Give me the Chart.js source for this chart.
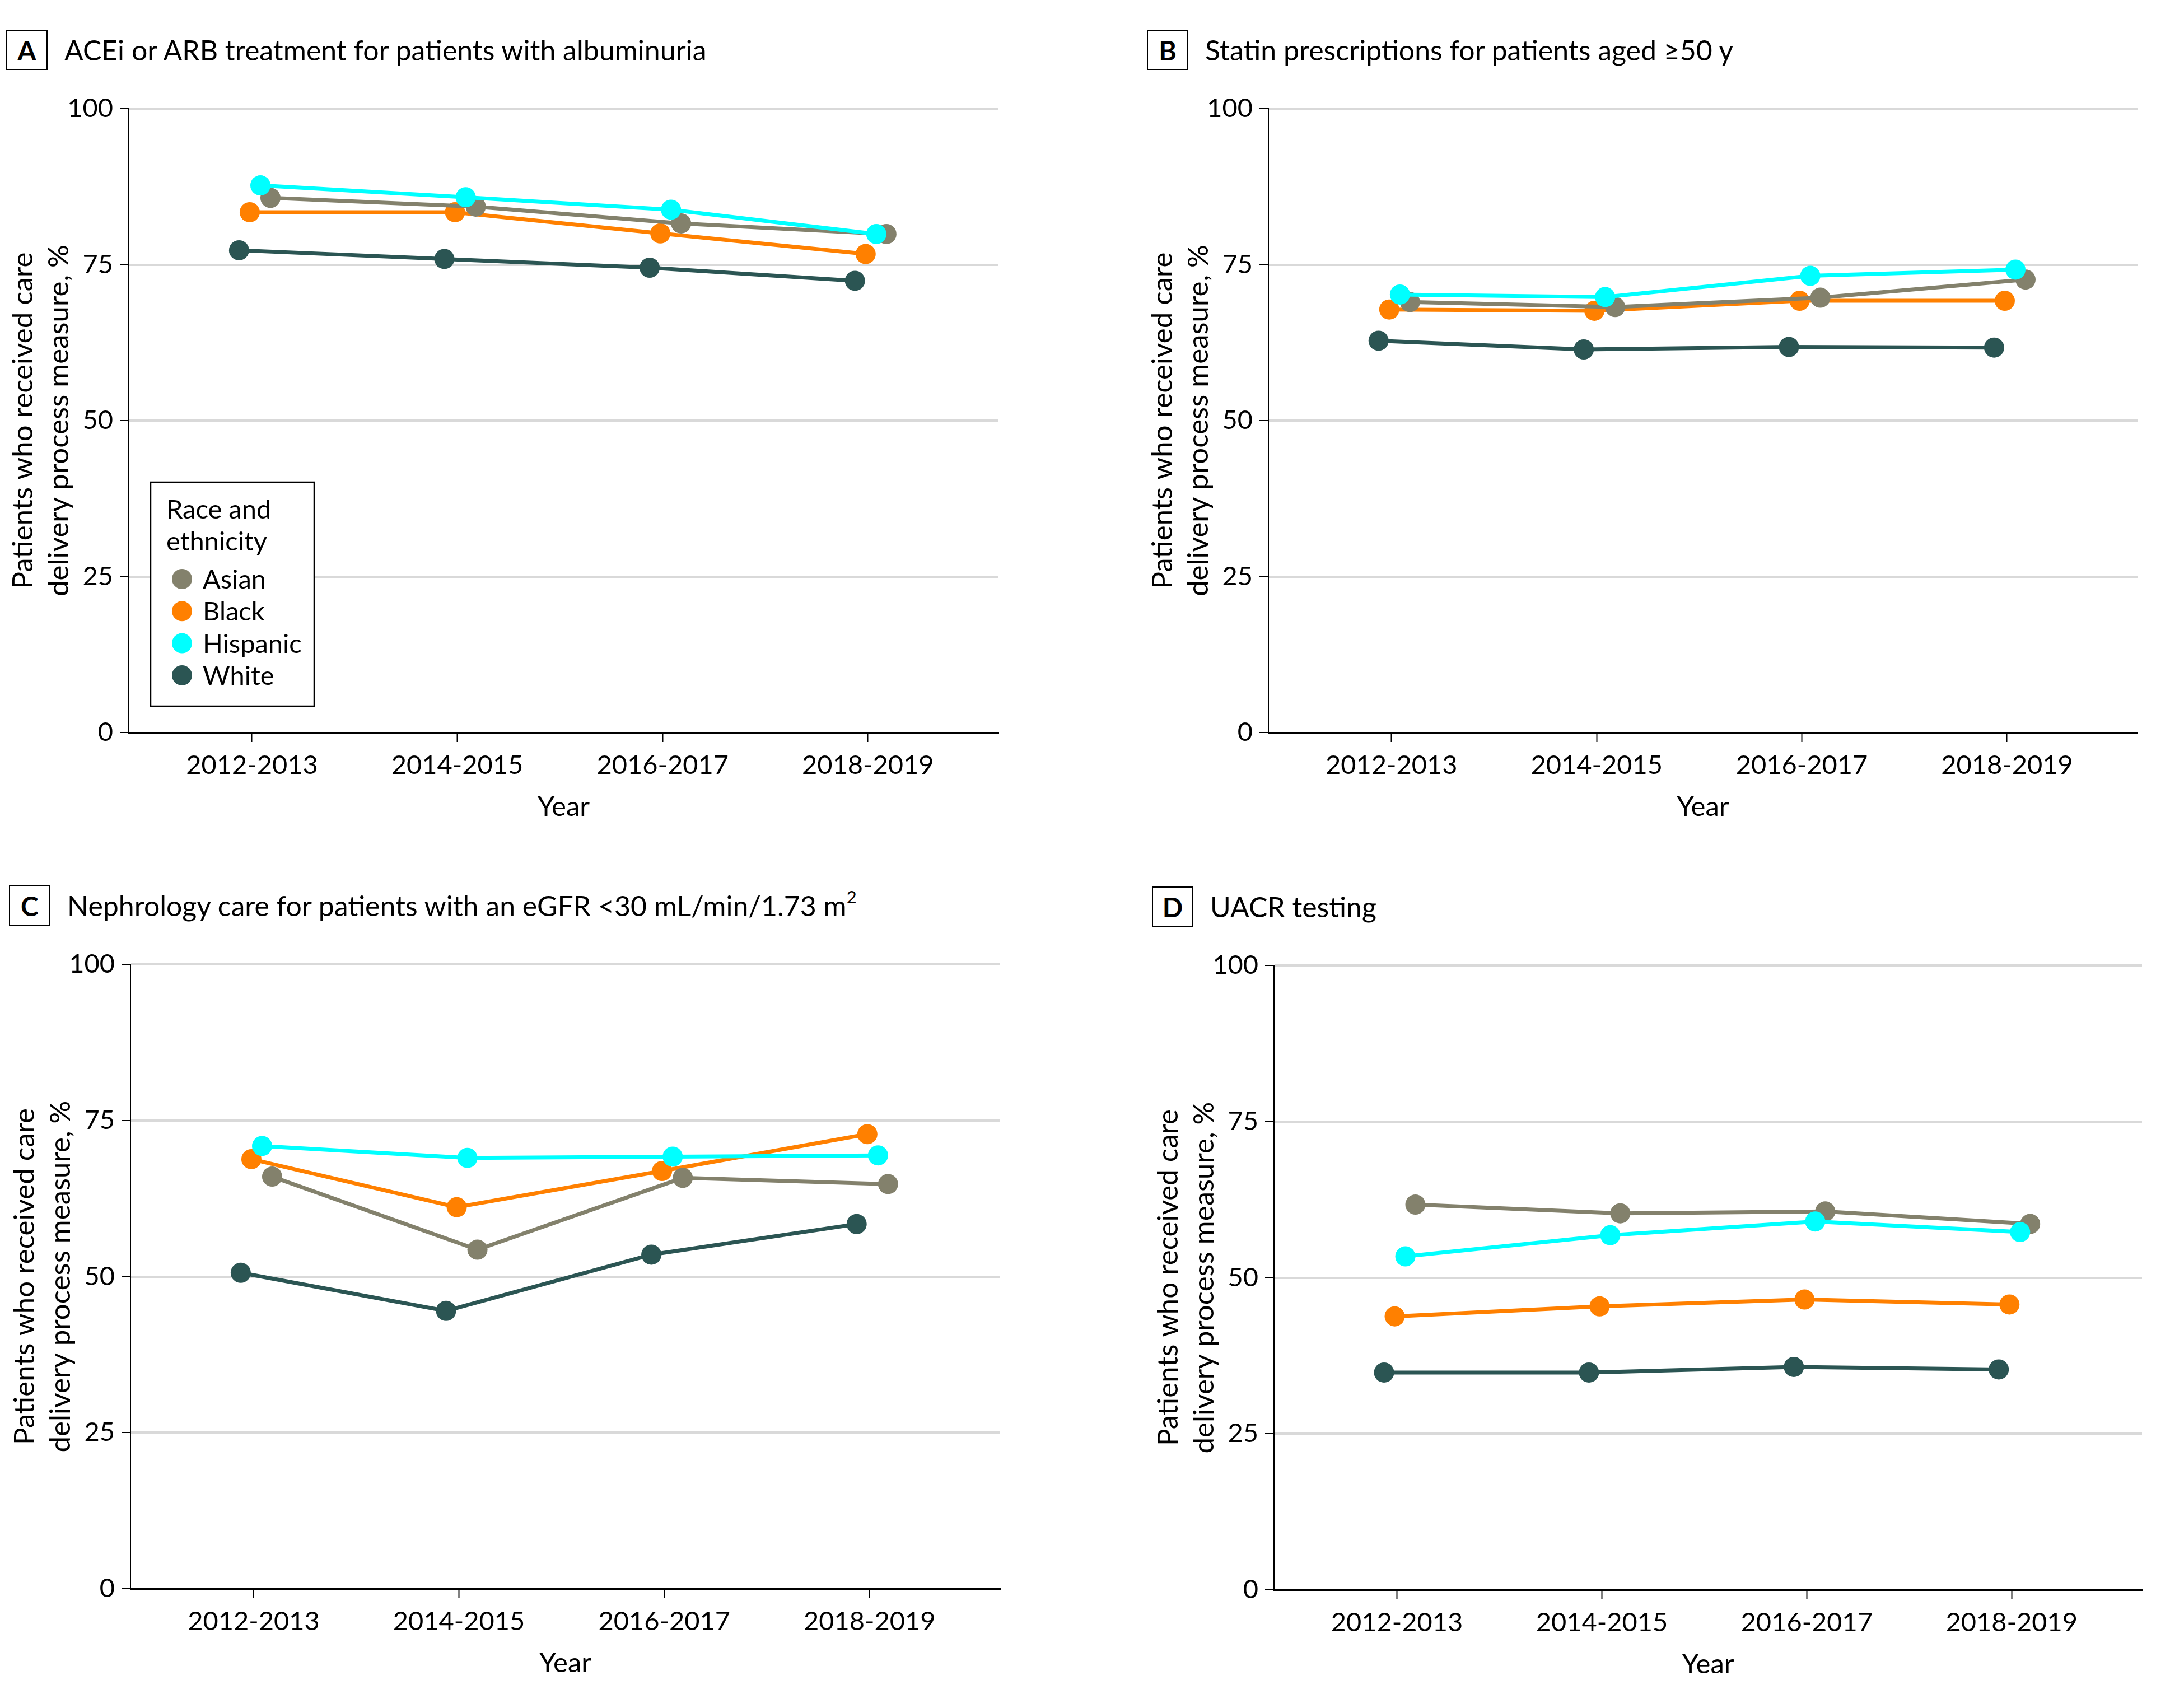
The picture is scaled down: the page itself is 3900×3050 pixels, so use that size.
<!DOCTYPE html>
<html>
<head>
<meta charset="utf-8">
<script src="https://cdn.jsdelivr.net/npm/chart.js@4.4.1/dist/chart.umd.min.js"></script>
<style>
  html, body { margin: 0; padding: 0; background: #fff; }
  body { width: 3900px; height: 3050px; position: relative; overflow: hidden; font-family: Lato, sans-serif; }
  canvas { position: absolute; }
  .ptitle { position: absolute; display: flex; align-items: center; font-size: 50px; color: #000; white-space: nowrap; }
  .tag { box-sizing: border-box; width: 74px; height: 72px; border: 2.5px solid #000; font-weight: bold; font-size: 48px;
         display: flex; align-items: center; justify-content: center; margin-right: 30px; }
  sup { font-size: 31px; vertical-align: 23px; line-height: 0; }
</style>
</head>
<body>
<script>
const periods = ["2012-2013", "2014-2015", "2016-2017", "2018-2019"];
const groups = ["Asian", "Black", "Hispanic", "White"];
const yTicks = [0, 25, 50, 75, 100];
const legendTitle = ["Race and", "ethnicity"];

// A: ACEi or ARB treatment
const aceiAsian    = [85.7, 84.3, 81.6, 79.9];
const aceiBlack    = [83.4, 83.4, 80.0, 76.7];
const aceiHispanic = [87.7, 85.8, 83.8, 79.9];
const aceiWhite    = [77.3, 75.9, 74.5, 72.4];

// B: statin prescriptions
const statinAsian    = [69.0, 68.2, 69.7, 72.6];
const statinBlack    = [67.8, 67.6, 69.2, 69.2];
const statinHispanic = [70.2, 69.8, 73.2, 74.2];
const statinWhite    = [62.8, 61.4, 61.8, 61.7];

// C: nephrology care
const nephroAsian    = [66.0, 54.3, 65.8, 64.8];
const nephroBlack    = [68.8, 61.1, 66.9, 72.8];
const nephroHispanic = [70.9, 69.0, 69.2, 69.4];
const nephroWhite    = [50.6, 44.5, 53.5, 58.4];

// D: UACR testing
const uacrAsian    = [61.7, 60.3, 60.6, 58.6];
const uacrBlack    = [43.8, 45.4, 46.5, 45.7];
const uacrHispanic = [53.4, 56.8, 59.0, 57.3];
const uacrWhite    = [34.8, 34.8, 35.7, 35.3];

// look of each group; dodge = small sideways shift in x units
const groupStyle = {
  Asian:    { color: "#83816c", dodge: 0.09,  order: 3 },
  Black:    { color: "#ff8000", dodge: -0.011, order: 4 },
  Hispanic: { color: "#00ffff", dodge: 0.041, order: 2 },
  White:    { color: "#2b5553", dodge: -0.063, order: 1 },
};

const Y_AXIS_W = 230, X_AXIS_H = 170, PAD_TOP = 44, PAD_RIGHT = 67, PAD_BOTTOM = 12;
const font = { family: "Lato", size: 47 };
const axisTitleFont = { family: "Lato", size: 51, lineHeight: 1.25 };

const panels = [
  { tag: "A", title: "ACEi or ARB treatment for patients with albuminuria",
    series: [aceiAsian, aceiBlack, aceiHispanic, aceiWhite],
    area: [230, 194, 1783, 1308], titleAt: [11, 53], legend: true },
  { tag: "B", title: "Statin prescriptions for patients aged \u226550 y",
    series: [statinAsian, statinBlack, statinHispanic, statinWhite],
    area: [2265, 194, 3817, 1308], titleAt: [2048, 53] },
  { tag: "C", title: "Nephrology care for patients with an eGFR &lt;30 mL/min/1.73 m<sup>2</sup>",
    series: [nephroAsian, nephroBlack, nephroHispanic, nephroWhite],
    area: [233, 1722, 1786, 2837], titleAt: [16, 1581] },
  { tag: "D", title: "UACR testing",
    series: [uacrAsian, uacrBlack, uacrHispanic, uacrWhite],
    area: [2275, 1724, 3825, 2839], titleAt: [2057, 1583] },
];

// boxed legend drawn inside the plot of panel A
const boxLegend = {
  id: "boxLegend",
  afterDatasetsDraw(chart) {
    const { ctx, chartArea } = chart;
    const left = chartArea.left + 39, top = chartArea.bottom - 447, w = 292, h = 400;
    ctx.save();
    ctx.fillStyle = "#fff";
    ctx.fillRect(left, top, w, h);
    ctx.strokeStyle = "#000";
    ctx.lineWidth = 2.5;
    ctx.strokeRect(left, top, w, h);
    ctx.font = font.size + "px " + font.family;
    ctx.fillStyle = "#000";
    ctx.textBaseline = "alphabetic";
    legendTitle.forEach((line, i) => ctx.fillText(line, left + 28, top + 65 + i * 57));
    chart.data.datasets.forEach((ds, i) => {
      const cy = top + 173 + i * 57.3;
      ctx.beginPath();
      ctx.arc(left + 56, cy, 18, 0, Math.PI * 2);
      ctx.fillStyle = ds.backgroundColor;
      ctx.fill();
      ctx.fillStyle = "#000";
      ctx.textBaseline = "middle";
      ctx.fillText(ds.label, left + 93, cy + 2);
    });
    ctx.restore();
  }
};

function buildPanel(p) {
  const [aL, aT, aR, aB] = p.area;

  const head = document.createElement("div");
  head.className = "ptitle";
  head.style.left = p.titleAt[0] + "px";
  head.style.top = p.titleAt[1] + "px";
  head.innerHTML = '<span class="tag">' + p.tag + "</span><span>" + p.title + "</span>";
  document.body.appendChild(head);

  const cv = document.createElement("canvas");
  const left = aL - Y_AXIS_W, top = aT - PAD_TOP;
  const w = aR + PAD_RIGHT - left, h = aB + X_AXIS_H + PAD_BOTTOM - top;
  cv.width = w;
  cv.height = h;
  cv.style.left = left + "px";
  cv.style.top = top + "px";
  cv.style.width = w + "px";
  cv.style.height = h + "px";
  document.body.appendChild(cv);

  new Chart(cv, {
    type: "line",
    data: {
      datasets: groups.map((g, i) => ({
        label: g,
        data: p.series[i].map((v, j) => ({ x: j + 1 + groupStyle[g].dodge, y: v })),
        borderColor: groupStyle[g].color,
        backgroundColor: groupStyle[g].color,
        pointBackgroundColor: groupStyle[g].color,
        pointRadius: 18,
        pointBorderWidth: 0,
        borderWidth: 7,
        order: groupStyle[g].order,
      })),
    },
    options: {
      responsive: false,
      animation: false,
      devicePixelRatio: 1,
      events: [],
      layout: { padding: { left: 0, top: PAD_TOP, right: PAD_RIGHT, bottom: PAD_BOTTOM } },
      plugins: { legend: { display: false }, tooltip: { enabled: false } },
      scales: {
        x: {
          type: "linear",
          min: 0.4,
          max: 4.636,
          afterBuildTicks: s => { s.ticks = periods.map((_, i) => ({ value: i + 1 })); },
          afterFit: s => { s.height = X_AXIS_H; },
          ticks: { callback: v => periods[v - 1], font, color: "#000", padding: 14, maxRotation: 0, autoSkip: false },
          grid: { drawOnChartArea: false, drawTicks: true, tickLength: 17, tickColor: "#000", tickWidth: 2 },
          border: { display: true, color: "#000", width: 3 },
          title: { display: true, text: "Year", font: { family: "Lato", size: 49 }, color: "#000", padding: { top: 0, bottom: 7 } },
        },
        y: {
          min: 0,
          max: 100,
          afterBuildTicks: s => { s.ticks = yTicks.map(v => ({ value: v })); },
          afterFit: s => { s.width = Y_AXIS_W; },
          ticks: { font, color: "#000", padding: 12 },
          grid: {
            color: c => (c.tick && c.tick.value === 0 ? "rgba(0,0,0,0)" : "#d9d9d9"),
            lineWidth: 4, drawTicks: true, tickLength: 16, tickColor: "#000", tickWidth: 2,
          },
          border: { color: "#000", width: 2 },
          title: { display: true, text: ["Patients who received care", "delivery process measure, %"],
                   font: axisTitleFont, color: "#000", padding: { top: 10, bottom: 0 } },
        },
      },
    },
    plugins: p.legend ? [boxLegend] : [],
  });
}

panels.forEach(buildPanel);
</script>
</body>
</html>
